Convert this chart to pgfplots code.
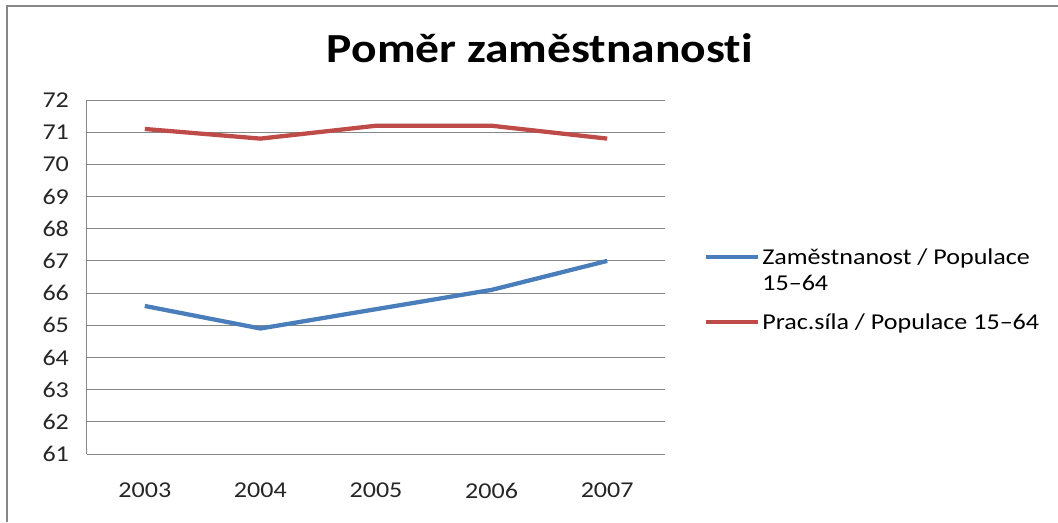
\documentclass[border=0pt]{standalone}
\usepackage{fontspec}
\setmainfont[FakeStretch=1.15, Ligatures=NoCommon]{Carlito}
\usepackage{pgfplots}
\pgfplotsset{compat=1.18}
\definecolor{sblue}{HTML}{4A7EBB}
\definecolor{sred}{HTML}{BE4B48}
\definecolor{gridg}{HTML}{878787}
\newcommand\PX[2]{({#1*0.75pt},{-#2*0.75pt})}
\pgfplotsset{upleg/.style={legend image code/.code={\draw[##1] (0pt,10pt) -- (39pt,10pt);}}}
\begin{document}
\begin{tikzpicture}
\path[use as bounding box] \PX{0}{0} rectangle \PX{1058}{522};
\draw[color=gridg, line width=1.5pt] \PX{7}{522} -- \PX{7}{6} -- \PX{1058}{6};
\node[font=\fontsize{31}{36}\selectfont\bfseries] at \PX{540}{48} {Poměr zaměstnanosti};
\begin{axis}[
  at={(65.25pt,-340.5pt)}, anchor=south west, scale only axis,
  width=433.5pt, height=265.5pt,
  xmin=-0.5, xmax=4.5, ymin=61, ymax=72,
  xtick={0,1,2,3,4}, xticklabels={2003,2004,2005,2006,2007},
  ytick={61,62,...,72},
  axis x line*=bottom, axis y line*=left,
  axis line style={color=gridg, line width=0.75pt, -},
  ymajorgrids, major grid style={color=gridg, line width=0.75pt},
  major tick length=0pt,
  /pgf/number format/assume math mode=true,
  ticklabel style={font=\fontsize{17}{20}\selectfont, color=black!85},
  xticklabel style={yshift=-18pt},
  yticklabel style={xshift=-10pt},
  legend style={at={(1.066,0.463)}, anchor=west, draw=none, fill=none,
    inner sep=0pt, font=\fontsize{17}{19}\selectfont, row sep=12pt,
    cells={align=left, anchor=west}},
  legend cell align=left,
  legend image code/.code={\draw[#1] (0pt,0pt) -- (39pt,0pt);},
]
\addplot[color=sblue, line width=3.2pt, upleg]
  coordinates {(0,65.6) (1,64.9) (2,65.5) (3,66.1) (4,67.0)};
\addlegendentry{Zaměstnanost / Populace\\15–64}
\addplot[color=sred, line width=3.2pt] coordinates {(0,71.1) (1,70.8) (2,71.2) (3,71.2) (4,70.8)};
\addlegendentry{Prac.síla / Populace 15–64}
\end{axis}
\end{tikzpicture}
\end{document}
